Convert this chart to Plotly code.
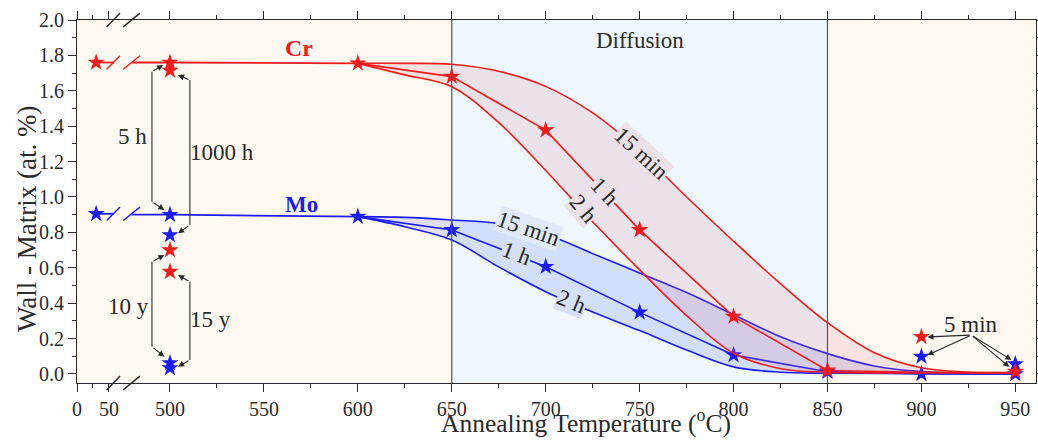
import plotly.graph_objects as go

# ---------------- data (temperatures in °C, values in at.%) ----------------
RT = 30  # as-produced state, shown on the broken-axis segment

flat_T = [RT, 500, 600]
cr_flat = [1.76, 1.76, 1.755]
mo_flat = [0.905, 0.90, 0.889]

# Cr annealing curves
cr15_T = [600, 625, 650, 675, 700, 725, 750, 775, 800, 825, 850, 875, 900, 925, 950]
cr15_v = [1.755, 1.755, 1.75, 1.71, 1.625, 1.475, 1.26, 1.0, 0.75, 0.51, 0.29, 0.12, 0.035, 0.01, 0.005]
cr1h_T = [600, 650, 700, 750, 800, 850, 900, 950]
cr1h_v = [1.755, 1.68, 1.378, 0.814, 0.324, 0.02, 0.01, 0.008]
cr2h_T = [600, 625, 650, 675, 700, 725, 750, 775, 800, 825, 850, 900, 950]
cr2h_v = [1.755, 1.69, 1.623, 1.42, 1.15, 0.86, 0.588, 0.33, 0.117, 0.03, 0.01, 0.006, 0.006]

# Mo annealing curves
mo15_T = [600, 625, 650, 675, 700, 725, 750, 775, 800, 825, 850, 875, 900, 925, 950]
mo15_v = [0.889, 0.885, 0.87, 0.85, 0.79, 0.68, 0.57, 0.46, 0.335, 0.21, 0.115, 0.045, 0.013, 0.005, 0.003]
mo1h_T = [600, 650, 700, 750, 800, 850, 900, 950]
mo1h_v = [0.889, 0.814, 0.606, 0.348, 0.107, 0.013, 0.0, 0.0]
mo2h_T = [600, 625, 650, 675, 700, 725, 750, 775, 800, 825, 850, 950]
mo2h_v = [0.889, 0.832, 0.757, 0.605, 0.465, 0.35, 0.245, 0.135, 0.04, 0.01, 0.004, 0.0]

# isolated measurements (long ageing at 500 °C and 5 min anneals)
cr_pts_T = [500, 500, 500, 900, 950]
cr_pts_v = [1.715, 0.70, 0.578, 0.21, 0.013]
mo_pts_T = [500, 500, 500, 900, 900, 950, 950]
mo_pts_v = [0.785, 0.062, 0.034, 0.098, 0.0, 0.056, 0.0]

x_tick_T = [0, 50, 500, 550, 600, 650, 700, 750, 800, 850, 900, 950]
x_minor_T = [25, 525, 575, 625, 675, 725, 775, 825, 875, 925]
y_ticks = [0.0, 0.2, 0.4, 0.6, 0.8, 1.0, 1.2, 1.4, 1.6, 1.8, 2.0]

RED = "#f01c1c"
BLUE = "#1c1cf0"
FONT = "Liberation Serif"
DARK = "#2a2a2a"


def xd(T):
    """broken axis: 0-50 °C compressed in front of the 500-950 °C range"""
    return T if T >= 500 else 450.5 + T * 0.34


def X(ts):
    return [xd(t) for t in ts]


GAP_L, GAP_R = 470.0, 479.6  # break gap on the axis (display units)

fig = go.Figure()

star = dict(symbol="star", size=13, line=dict(width=0))

for color, c15T, c15v, c2T, c2v, c1T, c1v, flat, pT, pv, fillc in [
    (BLUE, mo15_T, mo15_v, mo2h_T, mo2h_v, mo1h_T, mo1h_v, mo_flat, mo_pts_T, mo_pts_v, "rgba(70,95,240,0.17)"),
    (RED, cr15_T, cr15_v, cr2h_T, cr2h_v, cr1h_T, cr1h_v, cr_flat, cr_pts_T, cr_pts_v, "rgba(225,110,135,0.17)"),
]:
    fig.add_trace(go.Scatter(x=X(c2T), y=c2v, mode="lines", line=dict(color=color, width=1.6, shape="spline", smoothing=1)))
    fig.add_trace(go.Scatter(x=X(c15T), y=c15v, mode="lines", fill="tonexty", fillcolor=fillc,
                             line=dict(color=color, width=1.6, shape="spline", smoothing=1)))
    fig.add_trace(go.Scatter(x=X(c1T), y=c1v, mode="lines", line=dict(color=color, width=1.6)))
    fig.add_trace(go.Scatter(x=X(c1T[1:6]), y=c1v[1:6], mode="markers", marker=dict(color=color, **star)))
    # flat plateau with axis break
    fx = [xd(flat_T[0]), GAP_L, None, GAP_R, xd(flat_T[1]), xd(flat_T[2])]
    fy = [flat[0], flat[0], None, flat[1], flat[1], flat[2]]
    fig.add_trace(go.Scatter(x=fx, y=fy, mode="lines", line=dict(color=color, width=1.8)))
    fig.add_trace(go.Scatter(x=X(flat_T), y=flat, mode="markers", marker=dict(color=color, **star)))
    fig.add_trace(go.Scatter(x=X(pT), y=pv, mode="markers", marker=dict(color=color, **star)))

shapes = []
# diffusion region
shapes.append(dict(type="rect", xref="x", yref="paper", x0=650, x1=850, y0=0, y1=1,
                   fillcolor="#eff9fd", line=dict(width=0), layer="below"))
for xv in (650, 850):
    shapes.append(dict(type="line", xref="x", yref="paper", x0=xv, x1=xv, y0=0, y1=1,
                       line=dict(color="#555555", width=1.2), layer="above"))

# break slashes on axes and on plateau lines
def slashes(yc, yref, dy, color):
    out = []
    for x0, x1 in ((466.3, 473.4), (475.1, 484.0)):
        out.append(dict(type="line", xref="x", yref=yref, x0=x0, x1=x1, y0=yc - dy, y1=yc + dy,
                        line=dict(color=color, width=1.4), layer="above"))
    return out

shapes += slashes(1.0, "paper", 0.019, DARK)
shapes += slashes(0.0, "paper", 0.019, DARK)
shapes += slashes(cr_flat[0], "y", 0.038, RED)
shapes += slashes(mo_flat[0], "y", 0.038, BLUE)

# bracket verticals
for xv, y0, y1 in ((490.4, 1.708, 0.973), (510.6, 1.661, 0.842), (490.4, 0.634, 0.154), (510.6, 0.521, 0.079)):
    shapes.append(dict(type="line", xref="x", yref="y", x0=xv, x1=xv, y0=y0, y1=y1,
                       line=dict(color=DARK, width=1.1)))

ann = []
def arrow(xt, yt, xa, ya):
    ann.append(dict(x=xt, y=yt, ax=xa, ay=ya, xref="x", yref="y", axref="x", ayref="y",
                    text="", showarrow=True, arrowhead=2, arrowsize=1.1, arrowwidth=1.1, arrowcolor=DARK,
                    standoff=0, startstandoff=0))

# bracket arrows
arrow(496.3, 1.746, 490.4, 1.708); arrow(497.0, 0.927, 490.4, 0.973)
arrow(504.3, 1.689, 510.6, 1.661); arrow(504.3, 0.795, 510.6, 0.842)
arrow(497.0, 0.672, 490.4, 0.634); arrow(497.0, 0.098, 490.4, 0.154)
arrow(504.3, 0.559, 510.6, 0.521); arrow(504.3, 0.041, 510.6, 0.079)
# 5 min arrows
for xt, yt in ((903.2, 0.209), (903.2, 0.107), (947.9, 0.079), (946.8, 0.04)):
    arrow(xt, yt, 926.6, 0.22)

def text(x, y, s, size=23, color=DARK, angle=0, bold=False, bg=None, xref="x", yref="y", yanchor="middle"):
    d = dict(x=x, y=y, xref=xref, yref=yref, text=("<b>%s</b>" % s) if bold else s, showarrow=False,
             textangle=angle, xanchor="center", yanchor=yanchor,
             font=dict(family=FONT, size=size, color=color))
    if bg:
        d.update(bgcolor=bg, borderpad=0)
    ann.append(d)

text(480.3, 1.339, "5 h")
text(527.7, 1.249, "1000 h")
text(477.7, 0.379, "10 y")
text(521.3, 0.305, "15 y")
text(926.6, 0.277, "5 min")
text(750, 1.887, "Diffusion")
text(568.5, 1.84, "Cr", color=RED, bold=True, size=24)
text(570, 0.955, "Mo", color=BLUE, bold=True, size=23)

PINK_BG = "#ede1e9"
LAV_BG = "#d6e0fa"
text(750.9, 1.246, "15 min", angle=43, bg=PINK_BG)
text(731.4, 1.03, "1 h", angle=47, bg=PINK_BG)
text(719.9, 0.936, "2 h", angle=50, bg=PINK_BG)
text(690.6, 0.823, "15 min", angle=19, bg="#e0eafb")
text(684.4, 0.68, "1 h", angle=21, bg=LAV_BG)
text(713.6, 0.41, "2 h", angle=22, bg=LAV_BG)

# axis titles
text(0.531, -0.157, "Annealing Temperature (<sup>o</sup>C)", size=25.5, xref="paper", yref="paper",
     yanchor="bottom")
text(-0.052, 0.452, "Wall - Matrix (at. %)", size=27, angle=-90, xref="paper", yref="paper")

fig.update_layout(
    width=1038, height=441,
    margin=dict(l=77, r=2, t=20, b=58),
    paper_bgcolor="white", plot_bgcolor="#fff9f2",
    showlegend=False,
    shapes=shapes, annotations=ann,
    font=dict(family=FONT, color=DARK),
)
fig.update_xaxes(range=[450.5, 961], tickmode="array", tickvals=X(x_tick_T), ticktext=[str(t) for t in x_tick_T],
                 ticks="outside", ticklen=8, tickcolor=DARK, showline=True, linecolor=DARK, linewidth=1.2,
                 mirror="allticks", showgrid=False, zeroline=False, automargin=False,
                 tickfont=dict(size=20, family=FONT, color=DARK),
                 minor=dict(tickmode="array", tickvals=X(x_minor_T), ticks="outside", ticklen=4, tickcolor=DARK))
fig.update_yaxes(range=[-0.051, 2.0], tickmode="array", tickvals=y_ticks, tickformat=".1f",
                 ticks="outside", ticklen=8, tickcolor=DARK, showline=True, linecolor=DARK, linewidth=1.2,
                 mirror="allticks", showgrid=False, zeroline=False, automargin=False,
                 tickfont=dict(size=20, family=FONT, color=DARK),
                 minor=dict(dtick=0.1, ticks="outside", ticklen=4, tickcolor=DARK))

fig.write_html("out.html", config={"displayModeBar": False},
               post_script="document.body.style.margin='0';document.body.style.overflow='hidden';")
